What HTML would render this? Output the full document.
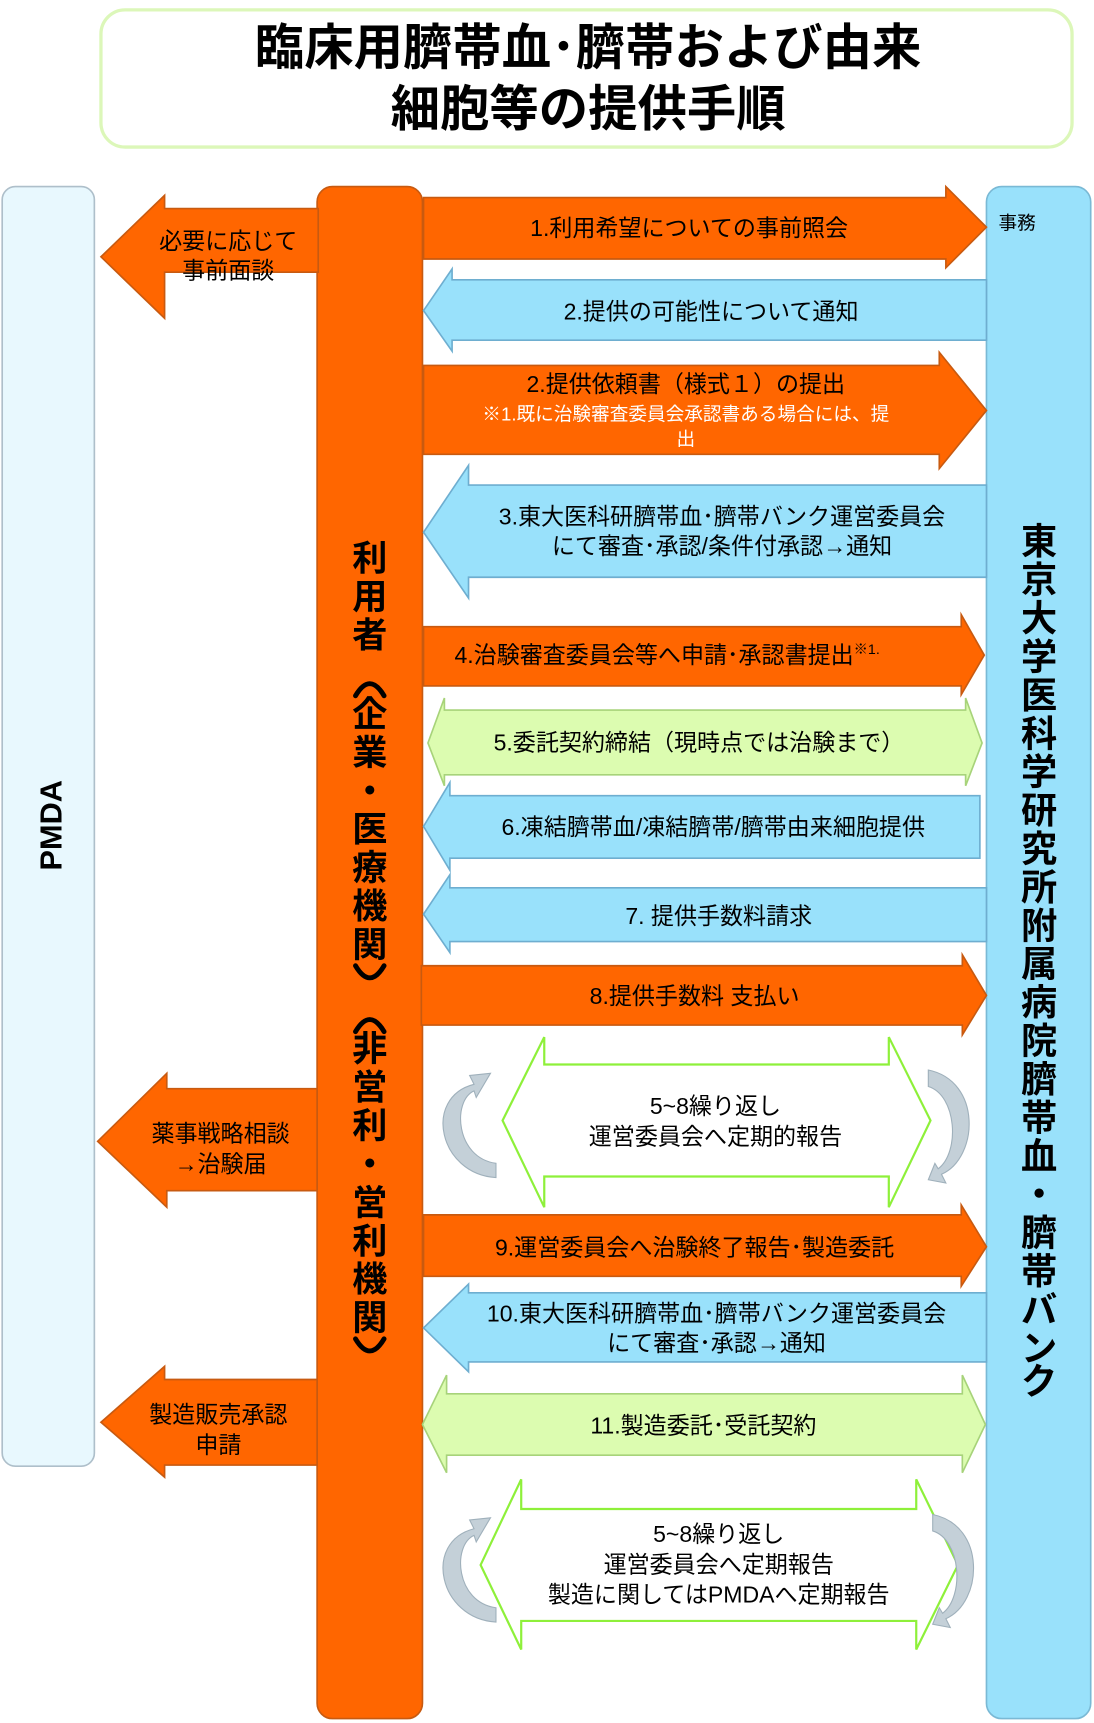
<!DOCTYPE html>
<html><head><meta charset="utf-8"><style>
html,body{margin:0;padding:0;background:#fff;}
svg{display:block;}
text{font-family:"Liberation Sans","Noto Sans CJK JP",sans-serif;}
</style></head><body>
<svg width="1094" height="1723" viewBox="0 0 997 1570" preserveAspectRatio="none" xmlns="http://www.w3.org/2000/svg">
<!-- title -->
<rect x="92" y="9" width="885" height="125" rx="22" fill="#fff" stroke="#dcf7b9" stroke-width="3"/>
<text x="536" y="59" font-size="45" font-weight="bold" text-anchor="middle" fill="#000">臨床用臍帯血･臍帯および由来</text>
<text x="536" y="115" font-size="45" font-weight="bold" text-anchor="middle" fill="#000">細胞等の提供手順</text>

<!-- columns -->
<rect x="2" y="170" width="84" height="1166" rx="12" fill="#e8f8fe" stroke="#aebfca" stroke-width="1.5"/>
<text transform="translate(56,752) rotate(-90)" font-size="28" font-weight="bold" text-anchor="middle" fill="#000">PMDA</text>
<rect x="289" y="170" width="96" height="1396" rx="14" fill="#ff6600" stroke="#c85a10" stroke-width="1.5"/>
<rect x="899" y="170" width="95" height="1396" rx="14" fill="#99e1fb" stroke="#7ab9d5" stroke-width="1.5"/>
<text x="910" y="209" font-size="17" fill="#000">事務</text>

<g font-size="32" font-weight="bold" fill="#000" text-anchor="middle">
<text x="337" y="520">利</text><text x="337" y="555">用</text><text x="337" y="590">者</text>
<text x="337" y="662">企</text><text x="337" y="697">業</text><text x="337" y="732">・</text><text x="337" y="767">医</text><text x="337" y="802">療</text><text x="337" y="837">機</text><text x="337" y="872">関</text>
<text x="337" y="967">非</text><text x="337" y="1002">営</text><text x="337" y="1037">利</text><text x="337" y="1072">・</text><text x="337" y="1107">営</text><text x="337" y="1142">利</text><text x="337" y="1177">機</text><text x="337" y="1212">関</text>
</g>
<g fill="none" stroke="#000" stroke-width="4.5" stroke-linecap="round">
<path d="M324,634 Q337,612 350,634"/>
<path d="M324,880 Q337,902 350,880"/>
<path d="M324,940 Q337,918 350,940"/>
<path d="M324,1220 Q337,1242 350,1220"/>
</g>
<g font-size="33" font-weight="bold" fill="#000" text-anchor="middle">
<text x="947" y="505">東</text><text x="947" y="540">京</text><text x="947" y="575">大</text><text x="947" y="610">学</text><text x="947" y="645">医</text><text x="947" y="680">科</text><text x="947" y="715">学</text><text x="947" y="750">研</text><text x="947" y="785">究</text><text x="947" y="820">所</text><text x="947" y="855">附</text><text x="947" y="890">属</text><text x="947" y="925">病</text><text x="947" y="960">院</text><text x="947" y="995">臍</text><text x="947" y="1030">帯</text><text x="947" y="1065">血</text><text x="947" y="1100">・</text><text x="947" y="1135">臍</text><text x="947" y="1170">帯</text><text x="947" y="1205">バ</text><text x="947" y="1240">ン</text><text x="947" y="1270">ク</text>
</g>

<!-- left orange arrows -->
<g fill="#ff6600" stroke="#c85a10" stroke-width="1.5">
<polygon points="290,190 150,190 150,178 92,234 150,290 150,248 290,248"/>
<polygon points="289,992 152,992 152,978 89,1040 152,1100 152,1085 289,1085"/>
<polygon points="289,1257 150,1257 150,1245 92,1296 150,1346 150,1335 289,1335"/>
</g>
<g font-size="21" fill="#000" text-anchor="middle">
<text x="208" y="227">必要に応じて</text><text x="208" y="254">事前面談</text>
<text x="201" y="1040">薬事戦略相談</text><text x="201" y="1068">→治験届</text>
<text x="199" y="1296">製造販売承認</text><text x="199" y="1324">申請</text>
</g>

<!-- orange right arrows -->
<g fill="#ff6600" stroke="#c85a10" stroke-width="1.5">
<polygon points="386,180 862,180 862,170 899,207 862,244 862,236 386,236"/>
<polygon points="386,333 856,333 856,321 899,374 856,427 856,414 386,414"/>
<polygon points="386,571 876,571 876,560 897,597 876,633 876,625 386,625"/>
<polygon points="384,880 877,880 877,870 899,907 877,943 877,934 384,934"/>
<polygon points="386,1107 876,1107 876,1098 899,1136 876,1172 876,1163 386,1163"/>
</g>
<!-- blue left arrows -->
<g fill="#99e1fb" stroke="#6eaed0" stroke-width="1.5">
<polygon points="899,255 412,255 412,245 386,283 412,320 412,310 899,310"/>
<polygon points="899,442 427,442 427,424 386,485 427,545 427,526 899,526"/>
<polygon points="893,725 410,725 410,713 386,753 410,793 410,782 893,782"/>
<polygon points="899,809 410,809 410,797 386,833 410,868 410,858 899,858"/>
<polygon points="899,1178 427,1178 427,1170 386,1210 427,1250 427,1241 899,1241"/>
</g>
<!-- green double -->
<g fill="#dcfcb0" stroke="#a7d37a" stroke-width="1.5">
<polygon points="405,636 405,647 880,647 880,636 895,677 880,716 880,706 405,706 405,716 390,677"/>
<polygon points="407,1253 407,1270 877,1270 877,1253 898,1298 877,1342 877,1326 407,1326 407,1342 385,1298"/>
</g>
<!-- loops -->
<g fill="#fff" stroke="#8ef03a" stroke-width="2">
<polygon points="496,945 496,970 810,970 810,945 848,1021 810,1100 810,1072 496,1072 496,1100 458,1021"/>
<polygon points="475,1348 475,1375 835,1375 835,1348 873,1426 835,1503 835,1477 475,1477 475,1503 438,1426"/>
</g>
<!-- curved arrows -->
<g stroke="#9fb0bb" stroke-width="1">
<path d="M452,1073 C400,1070 385,1000 432,988 L428,980 L447,978 L434,1000 L432,994 C412,1003 415,1055 452,1060 Z" fill="#c4d0d8"/>
<path d="M846,975 C895,985 892,1055 858,1070 L862,1078 L846,1075 L852,1060 L855,1065 C875,1050 872,998 846,990 Z" fill="#c4d0d8"/>
<path d="M452,1478 C400,1475 385,1405 432,1393 L428,1385 L447,1383 L434,1405 L432,1399 C412,1408 415,1460 452,1465 Z" fill="#c4d0d8"/>
<path d="M850,1380 C899,1390 896,1460 862,1475 L866,1483 L850,1480 L856,1465 L859,1470 C879,1455 876,1403 850,1395 Z" fill="#c4d0d8"/>
</g>

<!-- labels -->
<g font-size="21" fill="#000" text-anchor="middle">
<text x="628" y="215">1.利用希望についての事前照会</text>
<text x="648" y="291">2.提供の可能性について通知</text>
<text x="625" y="357">2.提供依頼書（様式１）の提出</text>
<text x="658" y="478">3.東大医科研臍帯血･臍帯バンク運営委員会</text>
<text x="658" y="505">にて審査･承認/条件付承認→通知</text>
<text x="608" y="604">4.治験審査委員会等へ申請･承認書提出<tspan font-size="13" dy="-8">※1.</tspan></text>
<text x="637" y="684">5.委託契約締結（現時点では治験まで）</text>
<text x="650" y="761">6.凍結臍帯血/凍結臍帯/臍帯由来細胞提供</text>
<text x="655" y="842">7.  提供手数料請求</text>
<text x="633" y="915">8.提供手数料   支払い</text>
<text x="652" y="1015">5~8繰り返し</text>
<text x="652" y="1043">運営委員会へ定期的報告</text>
<text x="633" y="1144">9.運営委員会へ治験終了報告･製造委託</text>
<text x="653" y="1204">10.東大医科研臍帯血･臍帯バンク運営委員会</text>
<text x="653" y="1231">にて審査･承認→通知</text>
<text x="641" y="1306">11.製造委託･受託契約</text>
<text x="655" y="1405">5~8繰り返し</text>
<text x="655" y="1433">運営委員会へ定期報告</text>
<text x="655" y="1460">製造に関してはPMDAへ定期報告</text>
</g>
<g font-size="17" fill="#fff" text-anchor="middle">
<text x="625" y="383">※1.既に治験審査委員会承認書ある場合には、提</text>
<text x="625" y="406">出</text>
</g>
</svg>
</body></html>
